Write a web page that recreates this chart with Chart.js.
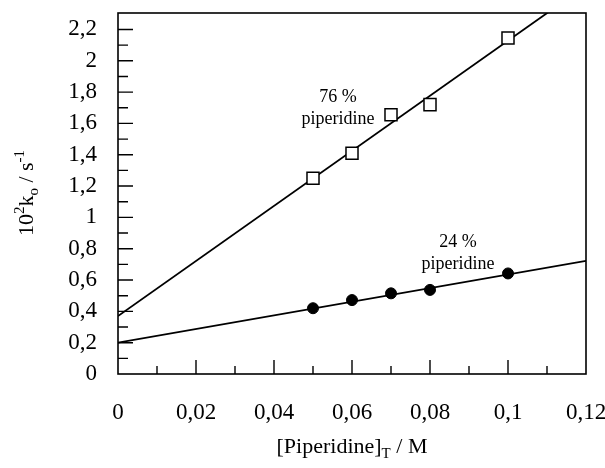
<!DOCTYPE html>
<html>
<head>
<meta charset="utf-8">
<script src="https://cdn.jsdelivr.net/npm/chart.js@4"></script>
<style>
  html, body { margin: 0; padding: 0; background: #fff; }
  #wrap { width: 605px; height: 468px; }
</style>
</head>
<body>
<div id="wrap"><canvas id="chart"></canvas></div>
<script>
// Concentration of piperidine (M)
const conc = [0.05, 0.06, 0.07, 0.08, 0.1];

// 10^2 k_o values
const k76 = [1.25, 1.41, 1.655, 1.72, 2.145];
const k24 = [0.42, 0.472, 0.515, 0.537, 0.642];

// fitted straight lines, end points
const fitX = [0, 0.12];
const fit76 = [0.37, 2.48];
const fit24 = [0.2, 0.723];

const FONT = '"Liberation Serif", "Times New Roman", serif';

const pts = (xs, ys) => xs.map((x, i) => ({ x: x, y: ys[i] }));

const fmt = (v, d) => parseFloat(v.toFixed(d)).toString().replace('.', ',');

// draw a run of text pieces [text, font, dy] centred on cx
function drawRuns(ctx, parts, cx, y) {
    let w = 0;
    parts.forEach(p => { ctx.font = p[1]; w += ctx.measureText(p[0]).width; });
    let x = cx - w / 2;
    parts.forEach(p => {
        ctx.font = p[1];
        ctx.fillText(p[0], x, y + p[2]);
        x += ctx.measureText(p[0]).width;
    });
}

// Inward ticks, frame, axis titles with sub/superscripts, series labels
const decorations = {
    id: 'decorations',
    afterDraw(chart) {
        const { ctx, chartArea: a, scales } = chart;
        const xs = scales.x, ys = scales.y;
        ctx.save();
        ctx.strokeStyle = '#000';
        ctx.lineWidth = 1.6;
        ctx.strokeRect(a.left, a.top, a.right - a.left, a.bottom - a.top);

        ctx.lineWidth = 1.4;
        ctx.beginPath();
        for (let i = 1; i <= 22; i++) {
            const y = ys.getPixelForValue(i / 10);
            const len = i % 2 === 0 ? 15 : 10;
            ctx.moveTo(a.left, y);
            ctx.lineTo(a.left + len, y);
        }
        for (let i = 1; i < 12; i++) {
            const x = xs.getPixelForValue(i / 100);
            const len = i % 2 === 0 ? 14 : 8;
            ctx.moveTo(x, a.bottom);
            ctx.lineTo(x, a.bottom - len);
        }
        ctx.stroke();

        ctx.fillStyle = '#000';
        ctx.textAlign = 'left';
        ctx.textBaseline = 'alphabetic';
        const big = '22px ' + FONT, small = '15px ' + FONT;

        // x title
        drawRuns(ctx, [
            ['[Piperidine]', big, 0], ['T', small, 5], [' / M', big, 0]
        ], (a.left + a.right) / 2, 453);

        // y title (rotated)
        ctx.save();
        ctx.translate(33, 193);
        ctx.rotate(-Math.PI / 2);
        drawRuns(ctx, [
            ['10', big, 0], ['2', small, -9], ['k', big, 0], ['o', small, 5],
            [' / s', big, 0], ['-1', small, -9]
        ], 0, 0);
        ctx.restore();

        // series labels
        ctx.textAlign = 'center';
        ctx.font = '18px ' + FONT;
        ctx.fillText('76 %', 338, 102);
        ctx.fillText('piperidine', 338, 124);
        ctx.fillText('24 %', 458, 247);
        ctx.fillText('piperidine', 458, 269);
        ctx.restore();
    }
};

new Chart(document.getElementById('chart'), {
    type: 'scatter',
    data: {
        datasets: [
            {
                label: 'fit 76 %',
                type: 'line',
                data: pts(fitX, fit76),
                borderColor: '#000',
                borderWidth: 1.8,
                pointRadius: 0,
                order: 2,
            },
            {
                label: 'fit 24 %',
                type: 'line',
                data: pts(fitX, fit24),
                borderColor: '#000',
                borderWidth: 1.8,
                pointRadius: 0,
                order: 2,
            },
            {
                label: '76 % piperidine',
                data: pts(conc, k76),
                pointStyle: 'rect',
                pointRadius: 8.5,
                pointBackgroundColor: '#fff',
                pointBorderColor: '#000',
                pointBorderWidth: 1.5,
                order: 1,
            },
            {
                label: '24 % piperidine',
                data: pts(conc, k24),
                pointStyle: 'circle',
                pointRadius: 5.5,
                pointBackgroundColor: '#000',
                pointBorderColor: '#000',
                pointBorderWidth: 1,
                order: 1,
            },
        ],
    },
    options: {
        responsive: true,
        maintainAspectRatio: false,
        animation: false,
        layout: {
            padding: { top: 13, right: 19, left: 0, bottom: 0 },
        },
        plugins: {
            legend: { display: false },
            tooltip: { enabled: false },
        },
        scales: {
            x: {
                type: 'linear',
                min: 0,
                max: 0.12,
                grid: { display: false },
                border: { display: false },
                ticks: {
                    stepSize: 0.02,
                    padding: 17,
                    color: '#000',
                    font: { family: FONT, size: 23 },
                    callback: v => fmt(v, 2),
                },
                afterFit: s => {
                    s.height = 94;
                    s.paddingLeft = 0;
                    s.paddingRight = 0;
                },
            },
            y: {
                min: 0,
                max: 2.305,
                grid: { display: false },
                border: { display: false },
                ticks: {
                    stepSize: 0.2,
                    includeBounds: false,
                    padding: 13,
                    color: '#000',
                    font: { family: FONT, size: 23 },
                    callback: v => fmt(v, 1),
                },
                afterFit: s => {
                    s.width = 118;
                    s.paddingTop = 0;
                    s.paddingBottom = 0;
                },
            },
        },
    },
    plugins: [decorations],
});
</script>
</body>
</html>
